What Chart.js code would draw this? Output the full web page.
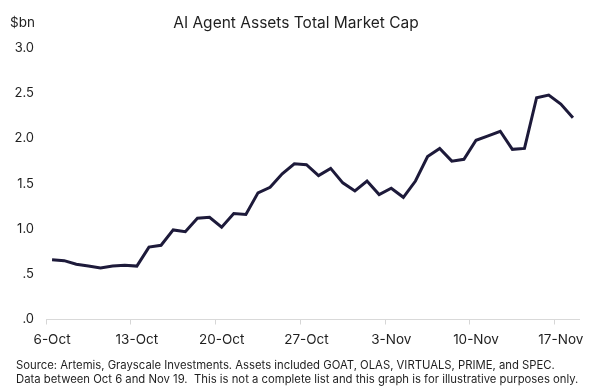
<!DOCTYPE html>
<html>
<head>
<meta charset="utf-8">
<script src="https://cdn.jsdelivr.net/npm/chart.js@4.4.1/dist/chart.umd.min.js"></script>
<style>
    html, body { margin: 0; padding: 0; background: #fff; }
    #wrap { width: 600px; height: 392px; }
</style>
</head>
<body>
<div id="wrap"><canvas id="chart" width="600" height="392"></canvas></div>
<script>
const chartTitle = "AI Agent Assets Total Market Cap";
const unitLabel = "$bn";
const footerLines = [
    "Source: Artemis, Grayscale Investments. Assets included GOAT, OLAS, VIRTUALS, PRIME, and SPEC.",
    "Data between Oct 6 and Nov 19.  This is not a complete list and this graph is for illustrative purposes only."
];

// one point per day
const dates = [
    "6-Oct", "7-Oct", "8-Oct", "9-Oct", "10-Oct", "11-Oct", "12-Oct",
    "13-Oct", "14-Oct", "15-Oct", "16-Oct", "17-Oct", "18-Oct", "19-Oct",
    "20-Oct", "21-Oct", "22-Oct", "23-Oct", "24-Oct", "25-Oct", "26-Oct",
    "27-Oct", "28-Oct", "29-Oct", "30-Oct", "31-Oct", "1-Nov", "2-Nov",
    "3-Nov", "4-Nov", "5-Nov", "6-Nov", "7-Nov", "8-Nov", "9-Nov",
    "10-Nov", "11-Nov", "12-Nov", "13-Nov", "14-Nov", "15-Nov", "16-Nov",
    "17-Nov", "18-Nov"
];

// total market cap, $bn
const marketCap = [
    0.66, 0.65, 0.61, 0.59, 0.57, 0.59, 0.60,
    0.59, 0.80, 0.82, 0.99, 0.97, 1.12, 1.13,
    1.02, 1.17, 1.16, 1.40, 1.46, 1.61, 1.72,
    1.71, 1.59, 1.67, 1.51, 1.42, 1.53, 1.38,
    1.45, 1.35, 1.53, 1.80, 1.89, 1.75, 1.77,
    1.98, 2.03, 2.08, 1.88, 1.89, 2.45, 2.48,
    2.38, 2.23
];

const yMin = 0;
const yMax = 3;
const yStep = 0.5;

const textColor = "#1f1f1f";
const lineColor = "#1d1a3a";
const fontFamily = "Inter, 'Noto Sans', sans-serif";

// заголовок, подпись оси и источник
const textPlugin = {
    id: "extraText",
    afterDraw(chart) {
        const ctx = chart.ctx;
        ctx.save();
        ctx.fillStyle = textColor;
        ctx.textBaseline = "middle";

        ctx.font = "15.5px " + fontFamily;
        ctx.textAlign = "center";
        ctx.fillText(chartTitle, 296, 23);

        ctx.font = "13.5px " + fontFamily;
        ctx.textAlign = "left";
        ctx.fillText(unitLabel, 10, 23);

        ctx.font = "11.3px " + fontFamily;
        ctx.fillText(footerLines[0], 16, 366);
        ctx.fillText(footerLines[1], 16, 380);
        ctx.restore();
    }
};

const ctx = document.getElementById("chart").getContext("2d");

new Chart(ctx, {
    type: "line",
    data: {
        labels: dates,
        datasets: [{
            label: chartTitle,
            data: marketCap,
            borderColor: lineColor,
            borderWidth: 3,
            pointRadius: 0,
            tension: 0,
            fill: false
        }]
    },
    options: {
        responsive: false,
        animation: false,
        devicePixelRatio: 1,
        layout: {
            padding: { top: 48, right: 21, left: 0, bottom: 0 }
        },
        plugins: {
            legend: { display: false },
            tooltip: { enabled: false }
        },
        scales: {
            x: {
                type: "category",
                offset: true,
                grid: {
                    offset: true,
                    drawOnChartArea: false,
                    drawTicks: true,
                    tickLength: 5,
                    color: (c) => (c.index % 7 === 0 ? "#d6d6d6" : "rgba(0,0,0,0)")
                },
                border: { color: "#d9d9d9", width: 1 },
                ticks: {
                    autoSkip: false,
                    maxRotation: 0,
                    padding: 7,
                    color: textColor,
                    font: { family: fontFamily, size: 13.5 },
                    callback: (v, i) => (i % 7 === 0 ? dates[i] : "")
                },
                afterFit: (s) => { s.height = 72.5; }
            },
            y: {
                min: yMin,
                max: yMax,
                grid: { display: false, drawTicks: false },
                border: { display: false },
                ticks: {
                    stepSize: yStep,
                    padding: 12,
                    color: textColor,
                    font: { family: fontFamily, size: 13 },
                    callback: (v) => v.toFixed(1).replace(/^0/, "")
                },
                afterFit: (s) => { s.width = 46; }
            }
        }
    },
    plugins: [textPlugin]
});
</script>
</body>
</html>
